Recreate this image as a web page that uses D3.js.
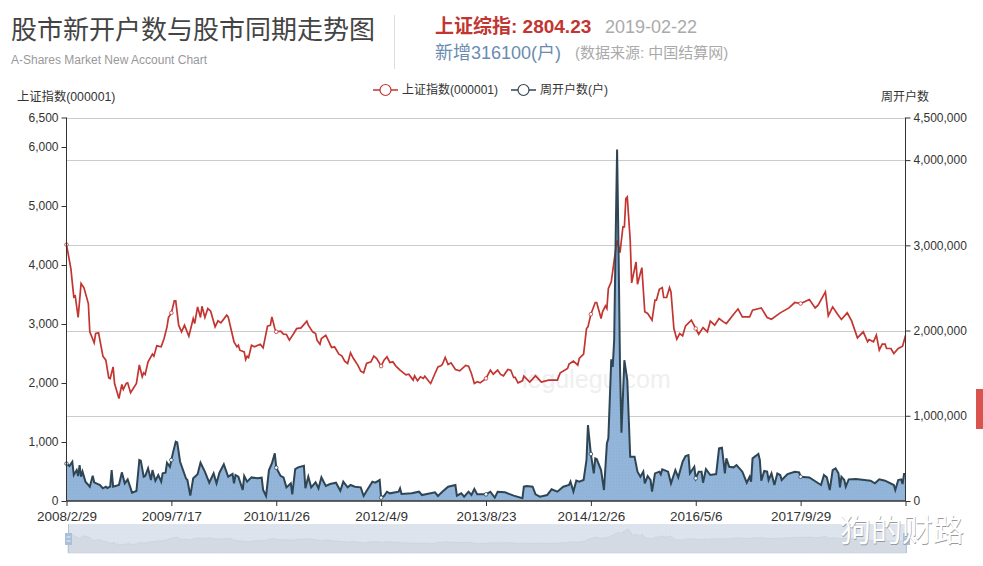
<!DOCTYPE html>
<html>
<head>
<meta charset="utf-8">
<script src="https://cdn.jsdelivr.net/npm/d3@7"></script>
<style>
    html, body { margin: 0; padding: 0; background: #fff; }
    svg { display: block; }
    text { font-family: "Liberation Sans", "Noto Sans CJK SC", sans-serif; }
    .axis text { font-size: 12px; fill: #333; }
    .axis path, .axis line { stroke: #333; }
    .date-axis text { font-size: 13.5px; }
</style>
</head>
<body>
<svg id="chart" width="983" height="566"></svg>
<script>
// [week number, value] at the turning points of each line
const shanghaiIndex = [
    [0,4345],[3,3939],[5,3459],[6,3476],[8,3110],[10,3685],[12,3612],[15,3347],[16,2867],[19,2681],
    [20,2839],[22,2850],[25,2455],[27,2387],[29,2088],[30,2077],[32,2274],[33,1992],[36,1738],[38,1975],
    [39,1891],[41,1992],[42,2003],[44,1834],[48,1992],[50,2308],[52,2105],[53,2173],[54,2145],[56,2359],
    [59,2489],[60,2455],[62,2630],[65,2613],[67,2754],[69,2952],[70,3110],[72,3189],[74,3392],[75,3392],
    [77,2980],[79,2867],[81,2980],[84,2794],[87,3093],[88,3008],[90,3290],[92,3110],[93,3301],[95,3110],
    [97,3262],[99,3217],[102,2952],[104,3053],[106,3019],[110,3149],[111,3121],[115,2698],[117,2613],[118,2641],
    [119,2556],[122,2528],[123,2398],[124,2455],[125,2432],[127,2641],[129,2613],[133,2658],[135,2596],[138,2963],
    [140,2980],[141,3121],[143,2923],[144,2867],[147,2878],[149,2827],[151,2822],[153,2726],[156,2839],[158,2923],
    [161,2935],[165,3047],[166,2980],[169,2867],[171,2839],[172,2726],[174,2658],[175,2754],[178,2810],[182,2602],
    [184,2613],[187,2489],[189,2461],[191,2370],[193,2331],[195,2511],[197,2415],[200,2303],[202,2201],[204,2173],
    [206,2331],[209,2359],[211,2455],[213,2415],[216,2286],[218,2387],[220,2444],[222,2348],[224,2359],[226,2291],
    [229,2218],[233,2139],[235,2150],[238,2049],[239,2122],[241,2037],[243,2105],[245,2077],[246,2116],[249,2021],
    [250,1992],[253,2161],[255,2274],[257,2291],[258,2314],[260,2432],[262,2314],[264,2342],[267,2229],[270,2207],
    [274,2297],[276,2286],[278,2161],[280,1992],[282,2021],[284,2003],[288,2077],[291,2218],[293,2150],[296,2218],
    [298,2145],[300,2122],[303,2229],[305,2218],[307,2094],[308,2094],[310,2003],[313,2037],[314,2116],[318,2015],
    [322,2122],[326,2015],[331,2049],[337,2049],[339,2173],[344,2246],[345,2320],[348,2370],[351,2303],[352,2415],
    [355,2489],[357,2923],[358,2952],[360,3166],[363,3364],[364,3364],[367,3093],[368,3206],[370,3307],[371,3262],
    [372,3601],[374,3714],[376,4080],[378,4419],[380,4210],[382,4645],[383,4645],[384,5124],[385,5153],[387,4419],
    [388,3697],[391,4052],[392,3674],[395,3956],[397,3206],[399,3178],[402,3065],[404,3403],[405,3403],[407,3590],
    [409,3618],[410,3449],[412,3449],[414,3618],[415,3544],[417,2924],[419,2743],[421,2839],[423,2800],[425,2969],
    [429,3065],[432,2923],[434,2827],[437,2940],[440,2867],[442,3048],[445,2980],[448,3093],[451,3036],[453,3008],
    [458,3166],[461,3256],[464,3121],[469,3121],[471,3234],[477,3273],[481,3110],[484,3081],[490,3189],[496,3273],
    [500,3364],[504,3347],[510,3414],[514,3273],[516,3318],[521,3544],[523,3138],[526,3290],[529,3177],[532,3076],
    [536,3189],[539,3053],[543,2765],[547,2867],[550,2698],[551,2737],[554,2698],[556,2811],[558,2557],[560,2658],
    [562,2658],[563,2585],[566,2585],[568,2500],[571,2585],[574,2624],[576,2804]
];

const weeklyAccounts = [
    [0,438000],[2,410000],[4,461000],[5,305000],[7,363000],[8,293000],[9,422000],[10,285000],[11,344000],[13,227000],
    [16,168000],[18,297000],[19,219000],[23,188000],[25,149000],[27,168000],[28,153000],[30,168000],[31,363000],[32,168000],
    [36,188000],[38,336000],[40,207000],[42,254000],[45,98000],[48,117000],[50,481000],[51,473000],[53,285000],[54,293000],
    [56,383000],[58,246000],[59,363000],[61,238000],[63,305000],[65,227000],[66,324000],[68,332000],[69,449000],[71,402000],
    [72,481000],[73,559000],[75,696000],[76,688000],[78,461000],[82,266000],[83,246000],[85,63000],[87,266000],[90,313000],
    [92,449000],[95,344000],[98,215000],[101,324000],[103,207000],[105,332000],[108,430000],[111,285000],[114,317000],[115,207000],
    [116,305000],[118,285000],[121,129000],[122,293000],[124,227000],[127,277000],[131,266000],[134,274000],[135,129000],[137,59000],
    [139,363000],[141,441000],[143,559000],[144,391000],[147,293000],[149,277000],[151,160000],[154,207000],[155,78000],[157,375000],
    [159,395000],[163,414000],[164,149000],[166,285000],[168,160000],[171,219000],[173,149000],[175,277000],[178,176000],[181,199000],
    [185,215000],[188,121000],[190,227000],[193,160000],[195,188000],[198,168000],[202,160000],[204,59000],[206,117000],[210,227000],
    [212,215000],[215,246000],[216,39000],[218,59000],[220,109000],[222,90000],[228,109000],[229,149000],[230,82000],[237,90000],
    [242,109000],[244,70000],[253,102000],[255,59000],[258,109000],[262,168000],[267,188000],[268,63000],[271,90000],[273,51000],
    [276,109000],[278,70000],[280,141000],[282,78000],[288,78000],[291,109000],[294,39000],[296,109000],[301,102000],[307,63000],
    [313,32000],[314,168000],[316,176000],[320,168000],[322,78000],[325,51000],[330,70000],[333,137000],[337,109000],[341,168000],
    [345,188000],[346,227000],[348,110000],[350,239000],[352,227000],[355,246000],[357,481000],[358,891000],[360,551000],[362,324000],
    [363,500000],[364,492000],[367,363000],[369,129000],[371,676000],[372,735000],[374,1664000],[375,1574000],[376,1887000],[377,3059000],
    [378,4125000],[379,2941000],[380,1574000],[381,800000],[383,1652000],[384,1535000],[385,1418000],[387,520000],[390,520000],[392,344000],
    [394,285000],[396,344000],[397,207000],[399,293000],[401,246000],[402,110000],[404,324000],[407,344000],[408,313000],[409,371000],
    [413,344000],[415,207000],[418,363000],[420,277000],[423,461000],[425,527000],[427,539000],[428,324000],[431,402000],[432,266000],
    [434,344000],[436,344000],[437,215000],[439,375000],[442,305000],[446,316000],[448,617000],[450,625000],[452,324000],[453,500000],
    [455,402000],[458,395000],[460,422000],[464,344000],[467,215000],[469,285000],[470,227000],[471,500000],[475,551000],[476,480000],
    [477,238000],[479,352000],[481,344000],[482,246000],[484,324000],[486,188000],[488,324000],[490,305000],[491,246000],[495,316000],
    [500,344000],[503,336000],[504,285000],[510,277000],[518,188000],[520,305000],[522,277000],[524,129000],[526,363000],[528,383000],
    [530,324000],[531,160000],[532,285000],[534,246000],[535,168000],[537,254000],[542,258000],[552,238000],[555,207000],[558,254000],
    [562,238000],[568,188000],[569,129000],[571,246000],[573,254000],[574,199000],[575,316000],[576,316100]
];

const dateWeeks = [0, 72, 144, 216, 288, 360, 432, 504, 576];
const dateLabels = ["2008/2/29", "2009/7/17", "2010/11/26", "2012/4/9", "2013/8/23", "2014/12/26", "2016/5/6", "2017/9/29", ""];
const indexTicks = [0, 1000, 2000, 3000, 4000, 5000, 6000, 6500];
const accountTicks = [0, 1000000, 2000000, 3000000, 4000000, 4500000];

const RED = "#c23531";
const NAVY = "#2f4554";

const svg = d3.select("#chart");

const xScale = d3.scaleLinear().domain([0, 576]).range([66.5, 905.5]);
const yIndex = d3.scaleLinear().domain([0, 6500]).range([501, 117.5]);
const yAccounts = d3.scaleLinear().domain([0, 4500000]).range([501, 117.5]);
const ySlider = d3.scaleLinear().domain([0, 5153]).range([553, 529]);

function addDots(id, base, dot, step) {
    const pattern = svg.append("defs").append("pattern")
        .attr("id", id)
        .attr("width", step)
        .attr("height", step)
        .attr("patternUnits", "userSpaceOnUse");
    pattern.append("rect").attr("width", step).attr("height", step).attr("fill", base);
    pattern.append("circle").attr("cx", step / 2).attr("cy", step / 2).attr("r", 0.5).attr("fill", dot);
}

function addText(x, y, str, size, color, weight) {
    return svg.append("text")
        .attr("x", x)
        .attr("y", y)
        .attr("font-size", size)
        .attr("fill", color)
        .attr("font-weight", weight || "normal")
        .text(str);
}

function drawHeader() {
    addText(11, 39, "股市新开户数与股市同期走势图", 26, "#444");
    addText(11, 64, "A-Shares Market New Account Chart", 12, "#999");
    svg.append("line")
        .attr("x1", 394.5).attr("x2", 394.5)
        .attr("y1", 15).attr("y2", 69)
        .attr("stroke", "#ddd");
    addText(435, 33, "上证综指: 2804.23", 19, RED, "bold");
    addText(605, 33, "2019-02-22", 18, "#aaa");
    addText(435, 59, "新增316100(户)", 18, "#6a8caf");
    addText(575, 58, "(数据来源: 中国结算网)", 15, "#aaa");
}

function drawLegend() {
    const items = [
        {x: 373, label: "上证指数(000001)", color: RED},
        {x: 511, label: "周开户数(户)", color: NAVY}
    ];
    items.forEach(function(item) {
        svg.append("line")
            .attr("x1", item.x).attr("x2", item.x + 25)
            .attr("y1", 90).attr("y2", 90)
            .attr("stroke", item.color)
            .attr("stroke-width", 1.5);
        svg.append("circle")
            .attr("cx", item.x + 12.5).attr("cy", 90).attr("r", 5.5)
            .attr("fill", "#fff")
            .attr("stroke", item.color)
            .attr("stroke-width", 1.2);
        addText(item.x + 29, 94, item.label, 12, "#333");
    });
    addText(17, 101, "上证指数(000001)", 12.3, "#333");
    addText(881, 101, "周开户数", 12, "#333");
}

function drawGrid() {
    svg.selectAll(".grid")
        .data(accountTicks.slice(1))
        .join("line")
        .attr("class", "grid")
        .attr("x1", xScale(0)).attr("x2", xScale(576))
        .attr("y1", d => Math.round(yAccounts(d)) + 0.5)
        .attr("y2", d => Math.round(yAccounts(d)) + 0.5)
        .attr("stroke", "#ccc");
}

function drawAxes() {
    svg.append("g")
        .attr("class", "axis")
        .attr("transform", "translate(66.5,0)")
        .call(d3.axisLeft(yIndex).tickValues(indexTicks).tickSize(5).tickPadding(3).tickFormat(d3.format(",")))
        .call(g => g.selectAll("path").attr("d", "M0,117.5V501"));
    svg.append("g")
        .attr("class", "axis")
        .attr("transform", "translate(905.5,0)")
        .call(d3.axisRight(yAccounts).tickValues(accountTicks).tickSize(5).tickPadding(3).tickFormat(d3.format(",")))
        .call(g => g.selectAll("path").attr("d", "M0,117.5V501"));
    svg.append("g")
        .attr("class", "axis date-axis")
        .attr("transform", "translate(0,501)")
        .call(d3.axisBottom(xScale)
            .tickValues(dateWeeks)
            .tickSize(5)
            .tickPadding(5)
            .tickFormat((d, i) => dateLabels[i]))
        .call(g => g.selectAll("path").attr("d", "M66.5,0H905.5").attr("stroke-width", 1.5));
}

function drawSeries() {
    const accountLine = d3.line().x(d => xScale(d[0])).y(d => yAccounts(d[1]));
    const accountArea = d3.area().x(d => xScale(d[0])).y0(yAccounts(0)).y1(d => yAccounts(d[1]));
    const indexLine = d3.line().x(d => xScale(d[0])).y(d => yIndex(d[1]));

    svg.append("path")
        .datum(weeklyAccounts)
        .attr("d", accountArea)
        .attr("fill", "url(#area-dots)");
    svg.append("path")
        .datum(shanghaiIndex)
        .attr("d", indexLine)
        .attr("fill", "none")
        .attr("stroke", RED)
        .attr("stroke-width", 1.7);
    svg.append("path")
        .datum(weeklyAccounts)
        .attr("d", accountLine)
        .attr("fill", "none")
        .attr("stroke", NAVY)
        .attr("stroke-width", 2);

    // only the labelled weeks keep their symbol
    svg.selectAll(".index-dot")
        .data(shanghaiIndex.filter(d => dateWeeks.slice(0, 8).includes(d[0])))
        .join("circle")
        .attr("class", "index-dot")
        .attr("cx", d => xScale(d[0]))
        .attr("cy", d => yIndex(d[1]))
        .attr("r", 1.8)
        .attr("fill", "#fff")
        .attr("stroke", RED)
        .attr("stroke-width", 0.8);
    svg.selectAll(".account-dot")
        .data(weeklyAccounts.filter(d => dateWeeks.slice(0, 8).includes(d[0])))
        .join("circle")
        .attr("class", "account-dot")
        .attr("cx", d => xScale(d[0]))
        .attr("cy", d => yAccounts(d[1]))
        .attr("r", 1.8)
        .attr("fill", "#fff")
        .attr("stroke", NAVY)
        .attr("stroke-width", 0.8);
}

function drawSlider() {
    svg.append("rect")
        .attr("x", 68).attr("y", 524)
        .attr("width", 838).attr("height", 29)
        .attr("fill", "url(#slider-dots)");
    const shadow = d3.area()
        .x(d => 68 + (xScale(d[0]) - 66.5) * 838 / 839)
        .y0(ySlider(0))
        .y1(d => ySlider(d[1]));
    svg.append("path")
        .datum(shanghaiIndex)
        .attr("d", shadow)
        .attr("fill", "#d3dae3")
        .attr("stroke", "#c6ced8")
        .attr("stroke-width", 0.6);
    [68.5, 906.5].forEach(function(x) {
        svg.append("line")
            .attr("x1", x).attr("x2", x)
            .attr("y1", 524).attr("y2", 553)
            .attr("stroke", "#b3c5d9");
        svg.append("rect")
            .attr("x", x - 3.5).attr("y", 533)
            .attr("width", 7).attr("height", 12)
            .attr("fill", "#a9c0d8");
        [537, 541].forEach(function(y) {
            svg.append("line")
                .attr("x1", x - 2).attr("x2", x + 2)
                .attr("y1", y).attr("y2", y)
                .attr("stroke", "#e8eef5");
        });
    });
}

function drawOverlay() {
    svg.append("rect")
        .attr("x", 976).attr("y", 389)
        .attr("width", 7).attr("height", 40)
        .attr("fill", "#d9534f");
    // repost stamp on the picture, white with a grey edge
    addText(840.5, 541.5, "狗的财路", 31, "#999");
    addText(840, 541, "狗的财路", 31, "#fff");
}

addDots("area-dots", "#92b5d9", "#88add4", 3);
addDots("slider-dots", "#dde4ed", "#d3dbe6", 4);
drawHeader();
drawLegend();
drawGrid();
addText(522, 388, "legulegu.com", 25, "#eeeff0");
drawSeries();
drawAxes();
drawSlider();
drawOverlay();
</script>
</body>
</html>
